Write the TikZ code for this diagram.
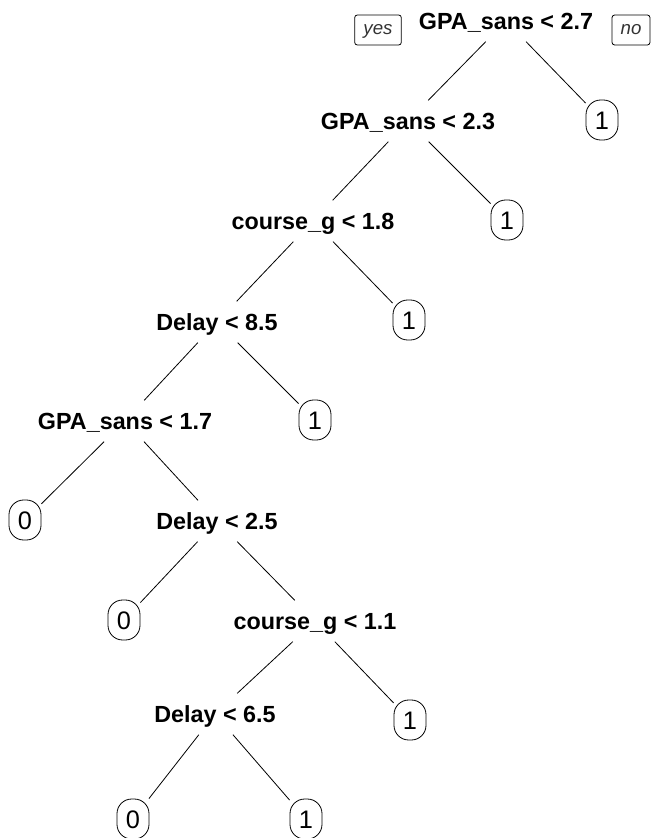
\documentclass[tikz,border=0pt]{standalone}
\usepackage{fontspec}
\setmainfont{Liberation Sans}

\begin{document}
\begin{tikzpicture}[x=0.75pt,y=-0.75pt,
 split node/.style={font=\fontsize{17.5}{20}\selectfont\bfseries,
   text height=12.6pt,text depth=0pt,inner xsep=2pt,inner ysep=9pt},
 leaf node/.style={draw,rounded corners=11pt,line width=0.6pt,
   font=\fontsize{19}{22}\selectfont,text height=13.6pt,text depth=0pt,
   minimum width=24pt,minimum height=30pt,inner sep=1pt},
 side node/.style={draw,rounded corners=2pt,line width=0.6pt,
   font=\fontsize{14}{16}\selectfont\itshape,text=black!80,
   text height=7.3pt,text depth=0pt,
   minimum height=22.5pt,inner xsep=3pt}]

  \useasboundingbox (0,0) rectangle (662,838);

  % splits
  \node[split node] (1) at (506,21) {GPA\_sans < 2.7};
  \node[split node] (2) at (408,121) {GPA\_sans < 2.3};
  \node[split node] (3) at (313,221) {course\_g < 1.8};
  \node[split node] (4) at (217,322) {Delay < 8.5};
  \node[split node] (5) at (125,421) {GPA\_sans < 1.7};
  \node[split node] (6) at (217,521) {Delay < 2.5};
  \node[split node] (7) at (315,621) {course\_g < 1.1};
  \node[split node] (8) at (215,714) {Delay < 6.5};

  % leaves
  \node[leaf node] (9) at (602,120) {1};
  \node[leaf node] (10) at (507,220) {1};
  \node[leaf node] (11) at (409,320) {1};
  \node[leaf node] (12) at (315,420) {1};
  \node[leaf node] (13) at (25,520) {0};
  \node[leaf node] (14) at (124,620) {0};
  \node[leaf node] (15) at (410,720) {1};
  \node[leaf node] (16) at (133,819) {0};
  \node[leaf node] (17) at (306,819) {1};

  \node[side node,minimum width=35pt] (yes) at (378,30) {yes};
  \node[side node,minimum width=28.5pt] (no) at (631,30) {no};

  \path[line width=0.6pt]
     (1) edge (2)
         edge (9)
     (2) edge (3)
         edge (10)
     (3) edge (4)
         edge (11)
     (4) edge (5)
         edge (12)
     (5) edge (13)
         edge (6)
     (6) edge (14)
         edge (7)
     (7) edge (8)
         edge (15)
     (8) edge (16)
         edge (17);
\end{tikzpicture}
\end{document}
